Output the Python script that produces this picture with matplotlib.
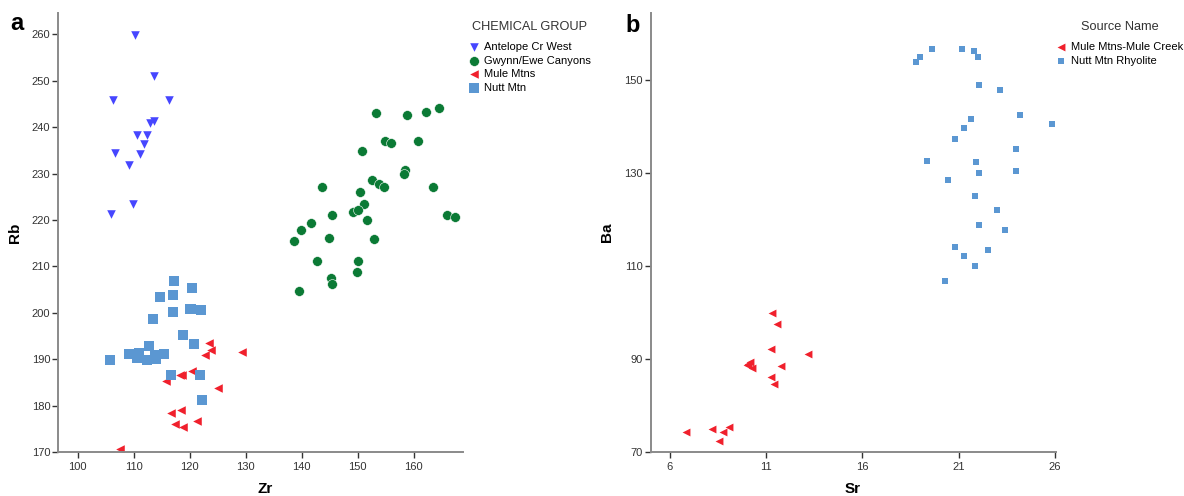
import matplotlib.pyplot as plt

plt.rcParams["font.family"] = ["Liberation Sans", "DejaVu Sans"]

# panel a: Zr vs Rb by chemical group
antelope_zr = [110.2, 113.6, 106.4, 116.4, 113.7, 113.0, 110.6, 112.4, 111.8, 106.6, 111.1, 109.1, 109.9, 105.9]
antelope_rb = [259.8, 251.1, 245.9, 245.8, 241.3, 240.8, 238.3, 238.4, 236.4, 234.4, 234.2, 231.9, 223.4, 221.2]

gwynn_zr = [153.2, 158.9, 162.2, 164.6, 154.9, 155.9, 160.7, 150.7, 158.4, 158.2, 143.7, 152.5,
            153.9, 154.7, 163.4, 150.4, 151.1, 149.1, 150.1, 145.5, 151.6, 165.9, 167.4, 141.7,
            139.8, 138.7, 144.9, 152.9, 142.7, 150.1, 149.9, 145.3, 145.5, 139.6]
gwynn_rb = [243.1, 242.7, 243.3, 244.2, 237.0, 236.6, 237.0, 234.8, 230.7, 230.0, 227.1, 228.7,
            227.8, 227.1, 227.1, 226.0, 223.4, 221.7, 222.2, 221.0, 220.1, 221.0, 220.6, 219.4,
            217.8, 215.5, 216.2, 215.8, 211.2, 211.2, 208.7, 207.6, 206.1, 204.6]

mule_zr = [123.5, 129.4, 123.8, 122.8, 120.5, 115.7, 118.3, 118.6, 125.1, 116.6, 118.4, 117.4, 118.9, 121.4, 107.6]
mule_rb = [193.4, 191.6, 191.9, 191.0, 187.5, 185.4, 186.5, 186.5, 183.9, 178.4, 179.1, 176.0, 175.3, 176.7, 170.6]

nutt_zr = [117.2, 120.4, 114.7, 117.0, 117.0, 120.1, 120.3, 122.0, 113.4, 118.9, 120.8, 112.7,
           109.1, 110.9, 110.6, 112.4, 114.0, 115.5, 113.9, 105.8, 116.7, 121.8, 122.2]
nutt_rb = [206.8, 205.3, 203.5, 203.8, 200.1, 200.9, 200.8, 200.5, 198.6, 195.2, 193.3, 192.8,
           191.2, 191.4, 190.3, 189.8, 190.0, 191.1, 190.9, 189.9, 186.7, 186.7, 181.2]

# panel b: Sr vs Ba by source
mulec_sr = [11.30, 11.56, 11.25, 13.18, 10.16, 10.07, 9.99, 10.26, 11.77, 11.27, 11.39, 9.08, 8.17, 8.74, 6.82, 8.53]
mulec_ba = [99.9, 97.5, 92.2, 91.0, 89.4, 88.9, 88.6, 88.0, 88.5, 86.1, 84.6, 75.3, 74.9, 74.2, 74.4, 72.4]

rhyo_sr = [18.79, 19.02, 19.62, 21.17, 21.79, 22.02, 22.08, 23.18, 24.22, 21.65, 25.88, 21.30, 20.82, 23.97,
           19.38, 21.93, 22.08, 23.98, 20.46, 21.88, 23.00, 22.07, 23.44, 20.80, 22.51, 21.30, 21.85, 20.32]
rhyo_ba = [153.8, 154.9, 156.5, 156.6, 156.2, 154.9, 148.9, 147.8, 142.3, 141.6, 140.5, 139.5, 137.3, 135.0,
           132.6, 132.2, 129.9, 130.4, 128.5, 124.9, 122.0, 118.8, 117.7, 114.1, 113.4, 112.0, 110.0, 106.8]

zr_ticks = [100, 110, 120, 130, 140, 150, 160]
rb_ticks = [170, 180, 190, 200, 210, 220, 230, 240, 250, 260]
sr_ticks = [6, 11, 16, 21, 26]
ba_ticks = [70, 90, 110, 130, 150]

BLUE_TRI = "#4646ff"
GREEN = "#0b7a35"
RED = "#f0202c"
SQUARE = "#5b97d2"

W, H = 1184, 496


def style_axes(ax):
    for s in ["top", "right"]:
        ax.spines[s].set_visible(False)
    for s in ["left", "bottom"]:
        ax.spines[s].set_color("#8a8a8a")
        ax.spines[s].set_linewidth(1.4)
    ax.tick_params(direction="out", length=4.5, width=1, color="#333333",
                   labelsize=8, labelcolor="#333333")
    ax.tick_params(axis="y", pad=1)
    ax.tick_params(axis="x", pad=3)


fig = plt.figure(figsize=(W / 100, H / 100), dpi=100)

ax1 = fig.add_axes([0.049, 0.0887, 0.342, 0.885])
ax1.scatter(antelope_zr, antelope_rb, marker="v", s=38, color=BLUE_TRI, lw=0, label="Antelope Cr West")
ax1.scatter(gwynn_zr, gwynn_rb, marker="o", s=50, color=GREEN, edgecolor="white", lw=0.4, label="Gwynn/Ewe Canyons")
ax1.scatter(mule_zr, mule_rb, marker="<", s=38, color=RED, lw=0, label="Mule Mtns")
ax1.scatter(nutt_zr, nutt_rb, marker="s", s=48, color=SQUARE, lw=0, label="Nutt Mtn")
ax1.set_xlim(96.5, 168.8)
ax1.set_ylim(170, 264.6)
ax1.set_xticks(zr_ticks)
ax1.set_yticks(rb_ticks)
style_axes(ax1)
ax1.set_xlabel("Zr", fontsize=11, fontweight="bold")
ax1.set_ylabel("Rb", fontsize=11, fontweight="bold")
ax1.xaxis.set_label_coords(0.511, -0.068)
ax1.yaxis.set_label_coords(-0.09, 0.5)

ax2 = fig.add_axes([0.5496, 0.0887, 0.342, 0.885])
ax2.scatter(mulec_sr, mulec_ba, marker="<", s=32, color=RED, lw=0, label="Mule Mtns-Mule Creek")
ax2.scatter(rhyo_sr, rhyo_ba, marker="s", s=24, color=SQUARE, lw=0, label="Nutt Mtn Rhyolite")
ax2.set_xlim(5, 26.05)
ax2.set_ylim(70, 164.3)
ax2.set_xticks(sr_ticks)
ax2.set_yticks(ba_ticks)
style_axes(ax2)
ax2.set_xlabel("Sr", fontsize=11, fontweight="bold")
ax2.set_ylabel("Ba", fontsize=11, fontweight="bold")
ax2.xaxis.set_label_coords(0.4995, -0.068)
ax2.yaxis.set_label_coords(-0.09, 0.5)

# legends: titles drawn separately so the gap below them can be matched
leg_kw = dict(frameon=False, fontsize=8, scatterpoints=1,
              handlelength=0.8, handletextpad=0.45, labelspacing=0.33, borderpad=0,
              borderaxespad=0, loc="upper left", bbox_transform=fig.transFigure)
ax1.legend(bbox_to_anchor=(470 / W, 1 - 42 / H), **leg_kw)
ax2.legend(bbox_to_anchor=(1057 / W, 1 - 42 / H), **leg_kw)
fig.text(529.5 / W, 1 - 27 / H, "CHEMICAL GROUP", fontsize=9.2, color="#333333", ha="center", va="center")
fig.text(1120 / W, 1 - 27 / H, "Source Name", fontsize=9.2, color="#333333", ha="center", va="center")

fig.text(16.5 / W, 1 - 23.5 / H, "a", fontsize=17, fontweight="bold", ha="center", va="center")
fig.text(632.5 / W, 1 - 25 / H, "b", fontsize=17, fontweight="bold", ha="center", va="center")

fig.savefig("out.png", dpi=100)
